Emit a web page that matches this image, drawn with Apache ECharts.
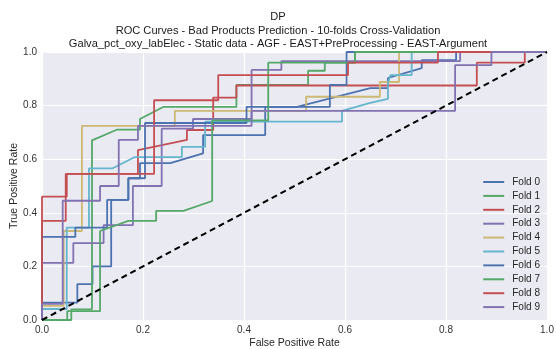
<!DOCTYPE html>
<html>
<head>
<meta charset="utf-8">
<script src="https://cdn.jsdelivr.net/npm/echarts@6/dist/echarts.min.js"></script>
<style>
html,body{margin:0;padding:0;background:#fff;}
#chart{width:556px;height:349px;}
</style>
</head>
<body>
<div id="chart"></div>
<script>
// ---- data (FPR, TPR) ----
const foldNames = ['Fold 0','Fold 1','Fold 2','Fold 3','Fold 4','Fold 5','Fold 6','Fold 7','Fold 8','Fold 9'];
const titleLines = ['DP', 'ROC Curves - Bad Products Prediction - 10-folds Cross-Validation', 'Galva_pct_oxy_labElec - Static data - AGF - EAST+PreProcessing - EAST-Argument'];
const xTicks = [0, 0.2, 0.4, 0.6, 0.8, 1.0];
const yTicks = [0, 0.2, 0.4, 0.6, 0.8, 1.0];

const fold0 = [[0,0],[0,0.065],[0.07,0.065],[0.07,0.134],[0.1,0.134],[0.1,0.2],[0.137,0.2],[0.137,0.448],[0.171,0.448],[0.171,0.529],[0.194,0.529],[0.194,0.585],[0.254,0.585],[0.319,0.622],[0.319,0.69],[0.442,0.69],[0.442,0.795],[0.505,0.795],[0.65,0.865],[0.685,0.865],[0.685,0.903],[0.752,0.94],[0.752,0.97],[0.82,0.97],[0.82,1],[1,1]];
const fold1 = [[0,0],[0.058,0],[0.058,0.04],[0.099,0.04],[0.099,0.67],[0.148,0.71],[0.194,0.71],[0.194,0.75],[0.24,0.795],[0.385,0.795],[0.385,0.877],[0.527,0.877],[0.527,0.93],[0.56,0.93],[0.56,0.96],[0.62,0.96],[0.62,1],[1,1]];
const fold2 = [[0,0],[0,0.46],[0.049,0.46],[0.049,0.545],[0.19,0.545],[0.19,0.634],[0.287,0.672],[0.287,0.709],[0.339,0.709],[0.339,0.83],[0.385,0.83],[0.385,0.875],[0.861,0.875],[0.861,0.96],[0.956,0.96],[0.956,1],[1,1]];
const fold3 = [[0,0],[0,0.213],[0.062,0.213],[0.062,0.287],[0.122,0.287],[0.122,0.354],[0.18,0.354],[0.18,0.5],[0.237,0.5],[0.237,0.714],[0.299,0.714],[0.299,0.75],[0.415,0.75],[0.415,0.933],[0.474,0.933],[0.474,0.966],[0.828,0.966],[0.828,1],[1,1]];
const fold4 = [[0,0],[0,0.053],[0.043,0.053],[0.043,0.332],[0.079,0.332],[0.079,0.724],[0.263,0.724],[0.263,0.78],[0.523,0.78],[0.523,0.833],[0.669,0.833],[0.669,0.888],[0.707,0.888],[0.707,1],[1,1]];
const fold5 = [[0,0],[0,0.041],[0.049,0.041],[0.049,0.345],[0.093,0.345],[0.093,0.566],[0.14,0.566],[0.184,0.608],[0.277,0.608],[0.277,0.646],[0.323,0.646],[0.323,0.74],[0.594,0.74],[0.594,0.78],[0.65,0.81],[0.685,0.825],[0.685,0.883],[0.69,0.914],[0.732,0.914],[0.732,1],[1,1]];
const fold6 = [[0,0],[0,0.31],[0.066,0.31],[0.066,0.345],[0.129,0.345],[0.129,0.448],[0.171,0.448],[0.171,0.529],[0.204,0.529],[0.204,0.735],[0.405,0.735],[0.405,0.795],[0.57,0.795],[0.57,0.877],[0.603,0.877],[0.603,1],[1,1]];
const fold7 = [[0,0],[0.05,0],[0.05,0.033],[0.115,0.033],[0.115,0.332],[0.171,0.37],[0.226,0.37],[0.226,0.407],[0.28,0.407],[0.337,0.444],[0.337,0.745],[0.448,0.745],[0.448,0.96],[0.62,0.96],[0.62,1],[1,1]];
const fold8 = [[0,0],[0,0.37],[0.047,0.37],[0.047,0.545],[0.222,0.545],[0.222,0.82],[0.349,0.82],[0.349,0.914],[0.606,0.914],[0.606,0.96],[0.784,0.96],[0.784,1],[1,1]];
const fold9 = [[0,0],[0,0.06],[0.041,0.06],[0.041,0.445],[0.115,0.445],[0.115,0.5],[0.152,0.5],[0.152,0.672],[0.19,0.672],[0.19,0.724],[0.415,0.724],[0.415,0.78],[0.818,0.78],[0.818,0.951],[0.89,0.951],[0.89,1],[1,1]];
const chanceLine = [[0,0],[1,1]];

const foldData = [fold0, fold1, fold2, fold3, fold4, fold5, fold6, fold7, fold8, fold9];
const palette = ['#4C72B0','#55A868','#C44E52','#8172B2','#CCB974','#64B5CD'];

const FONT = "'Liberation Sans', Arial, sans-serif";

const series = foldData.map((d, i) => ({
  name: foldNames[i],
  type: 'line',
  data: d,
  showSymbol: false,
  symbol: 'none',
  color: palette[i % palette.length],
  lineStyle: { width: 1.8, color: palette[i % palette.length] },
  clip: true,
  z: 2
}));
series.push({
  name: 'chance',
  type: 'line',
  data: chanceLine,
  showSymbol: false,
  symbol: 'none',
  lineStyle: { width: 2, color: '#000', type: [6, 4] },
  clip: true,
  z: 3
});

const titleTops = [11, 25, 38];
const chart = echarts.init(document.getElementById('chart'), null, { renderer: 'canvas' });
chart.setOption({
  animation: false,
  backgroundColor: '#fff',
  title: titleLines.map((t, i) => ({
    text: t,
    left: 'center',
    top: titleTops[i],
    padding: 0,
    textStyle: { fontFamily: FONT, fontSize: 11.1, fontWeight: 'normal', color: '#1a1a1a' }
  })),
  grid: {
    left: 42, right: 9, top: 52, bottom: 29,
    show: true, backgroundColor: '#EAEAF2', borderWidth: 0,
    containLabel: false,
    outerBoundsMode: 'none'
  },
  legend: {
    data: foldNames,
    orient: 'vertical',
    right: 11,
    top: 172,
    itemWidth: 21,
    itemHeight: 2,
    itemGap: 3.9,
    icon: 'rect',
    padding: 5,
    textStyle: { fontFamily: FONT, fontSize: 10, color: '#262626', lineHeight: 10, padding: [0, 0, 0, 3] }
  },
  xAxis: {
    type: 'value', min: 0, max: 1, interval: 0.2,
    name: 'False Positive Rate', nameLocation: 'middle', nameGap: 18,
    nameMoveOverlap: false,
    nameTextStyle: { fontFamily: FONT, fontSize: 10.5, color: '#262626' },
    axisLine: { show: false }, axisTick: { show: false },
    axisLabel: { fontFamily: FONT, fontSize: 10, color: '#333', margin: 5, formatter: v => v.toFixed(1) },
    splitLine: { show: true, lineStyle: { color: '#fff', width: 1.2 } }
  },
  yAxis: {
    type: 'value', min: 0, max: 1, interval: 0.2,
    name: 'True Positive Rate', nameLocation: 'middle', nameGap: 22,
    nameMoveOverlap: false,
    nameTextStyle: { fontFamily: FONT, fontSize: 10.5, color: '#262626' },
    axisLine: { show: false }, axisTick: { show: false },
    axisLabel: { fontFamily: FONT, fontSize: 10, color: '#333', margin: 5, formatter: v => v.toFixed(1) },
    splitLine: { show: true, lineStyle: { color: '#fff', width: 1.2 } }
  },
  series: series
});
</script>
</body>
</html>
